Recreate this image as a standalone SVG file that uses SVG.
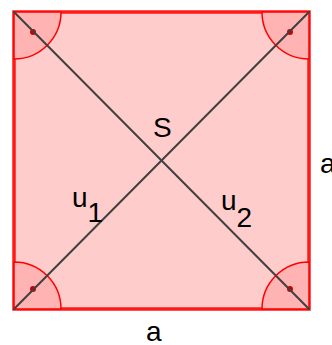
<svg xmlns="http://www.w3.org/2000/svg" width="332" height="345" viewBox="0 0 332 345">
<style>
.sq{fill:#ffcccc;stroke:#ff1a1a;stroke-width:3.5}
.ang{fill:#ffb3b3;stroke:#ff0000;stroke-width:1.5}
.dot{fill:#cc0000}
.diag{stroke:#404040;stroke-width:2;stroke-linecap:round}
.t{font-family:"Liberation Sans",Arial,sans-serif;font-size:28px;fill:#000}
</style>
<rect width="332" height="345" fill="#ffffff"/>
<g id="square"><rect class="sq" x="14" y="12" width="295" height="297"/></g>
<g id="angles">
<path class="ang" d="M14,12 L61,12 A47,47 0 0 1 14,59 Z"/>
<path class="ang" d="M309,12 L309,59 A47,47 0 0 1 262,12 Z"/>
<path class="ang" d="M14,309 L14,262 A47,47 0 0 1 61,309 Z"/>
<path class="ang" d="M309,309 L262,309 A47,47 0 0 1 309,262 Z"/>
<circle class="dot" cx="33" cy="32" r="3"/>
<circle class="dot" cx="290" cy="32" r="3"/>
<circle class="dot" cx="33" cy="289" r="3"/>
<circle class="dot" cx="290" cy="289" r="3"/>
</g>
<g id="connectors">
<line class="diag" x1="14" y1="12" x2="309" y2="309"/>
<line class="diag" x1="309" y1="12" x2="14" y2="309"/>
</g>
<g id="labels">
<text class="t" x="153" y="137">S</text>
<text class="t" x="72" y="207">u<tspan dy="15">1</tspan></text>
<text class="t" x="221" y="210">u<tspan dy="17">2</tspan></text>
<text class="t" x="146" y="341">a</text>
<text class="t" x="320" y="173">a</text>
</g>
</svg>
